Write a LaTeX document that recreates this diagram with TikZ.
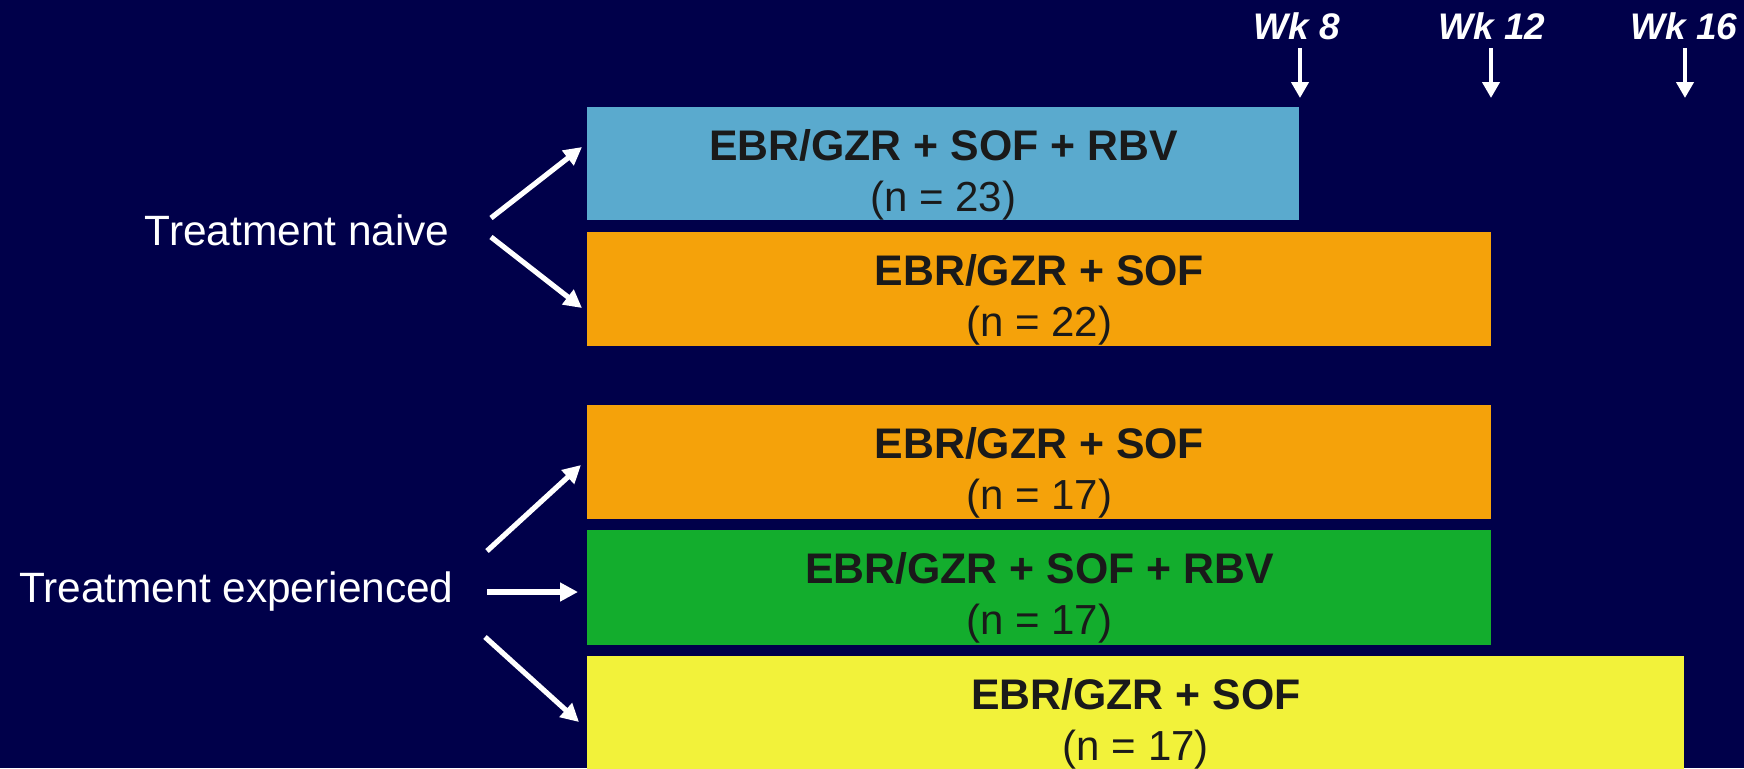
\documentclass[tikz,border=0pt]{standalone}
\usepackage{fontspec}
\setmainfont{Liberation Sans}
\usetikzlibrary{arrows.meta,calc}
\definecolor{bgnavy}{HTML}{00004A}
\definecolor{armblue}{HTML}{5AAACE}
\definecolor{armorange}{HTML}{F5A20A}
\definecolor{armgreen}{HTML}{13AD2D}
\definecolor{armyellow}{HTML}{F2F23A}
\definecolor{inkdark}{HTML}{1A1A1A}
\tikzset{
  armbox/.style={draw=none, inner sep=0pt, anchor=north west},
  armtitle/.style={font=\fontsize{21.4}{25}\selectfont\bfseries, text=inkdark, anchor=base, inner sep=0pt},
  armcount/.style={font=\fontsize{21}{25}\selectfont, text=inkdark, anchor=base, inner sep=0pt},
  grouplbl/.style={font=\fontsize{21.2}{25}\selectfont, text=white, anchor=base east, inner sep=0pt},
  weeklbl/.style={font=\fontsize{18.5}{22}\selectfont\bfseries\itshape, text=white, anchor=base, inner sep=0pt},
  sidearrow/.style={draw=white, line width=2.6pt, -{Triangle[length=9pt,width=9pt]}},
  weekarrow/.style={draw=white, line width=2pt, -{Triangle[length=8pt,width=8.5pt]}}
}
\begin{document}
\begin{tikzpicture}[x=0.5pt,y=-0.5pt]
  % canvas
  \fill[bgnavy] (0,0) rectangle (1744,768);
  \useasboundingbox (0,0) rectangle (1744,768);

  % treatment arms
  \node[armbox, fill=armblue,   minimum width=356pt, minimum height=56.5pt] (b1) at (587,107) {};
  \node[armbox, fill=armorange, minimum width=452pt, minimum height=57pt]   (b2) at (587,232) {};
  \node[armbox, fill=armorange, minimum width=452pt, minimum height=57pt]   (b3) at (587,405) {};
  \node[armbox, fill=armgreen,  minimum width=452pt, minimum height=57.5pt] (b4) at (587,530) {};
  \node[armbox, fill=armyellow, minimum width=548.5pt, minimum height=60pt] (b5) at (587,656) {};

  % arm labels
  \foreach \b/\t/\n in {b1/{EBR/GZR + SOF + RBV}/{(n = 23)},
                        b2/{EBR/GZR + SOF}/{(n = 22)},
                        b3/{EBR/GZR + SOF}/{(n = 17)},
                        b4/{EBR/GZR + SOF + RBV}/{(n = 17)},
                        b5/{EBR/GZR + SOF}/{(n = 17)}}{
    \node[armtitle] (\b t) at ($(\b.north)+(0,53)$) {\t};
    \node[armcount] (\b n) at ($(\b.north)+(0,104)$) {\n};
  }

  % groups
  \node[grouplbl] (naive) at (450,245) {Treatment naive};
  \node[grouplbl] (exper) at (454,602) {Treatment experienced};

  % branching arrows
  \coordinate (n1s) at (491,218); \coordinate (n1e) at (582,147);
  \coordinate (n2s) at (491,237); \coordinate (n2e) at (582,308);
  \coordinate (e1s) at (487,551); \coordinate (e1e) at (581,465);
  \coordinate (e2s) at (487,592); \coordinate (e2e) at (578,592);
  \coordinate (e3s) at (485,637); \coordinate (e3e) at (579,722);
  \draw[sidearrow] (n1s) -- (n1e);
  \draw[sidearrow] (n2s) -- (n2e);
  \draw[sidearrow] (e1s) -- (e1e);
  \draw[sidearrow] (e2s) -- (e2e);
  \draw[sidearrow] (e3s) -- (e3e);

  % week markers
  \node[weeklbl] (w8)  at (1297,39) {Wk 8};
  \node[weeklbl] (w12) at (1492,39) {Wk 12};
  \node[weeklbl] (w16) at (1684,39) {Wk 16};
  \coordinate (w8s)  at (1300,48); \coordinate (w8e)  at (1300,98);
  \coordinate (w12s) at (1491,48); \coordinate (w12e) at (1491,98);
  \coordinate (w16s) at (1685,48); \coordinate (w16e) at (1685,98);
  \draw[weekarrow] (w8s) -- (w8e);
  \draw[weekarrow] (w12s) -- (w12e);
  \draw[weekarrow] (w16s) -- (w16e);
\end{tikzpicture}
\end{document}
